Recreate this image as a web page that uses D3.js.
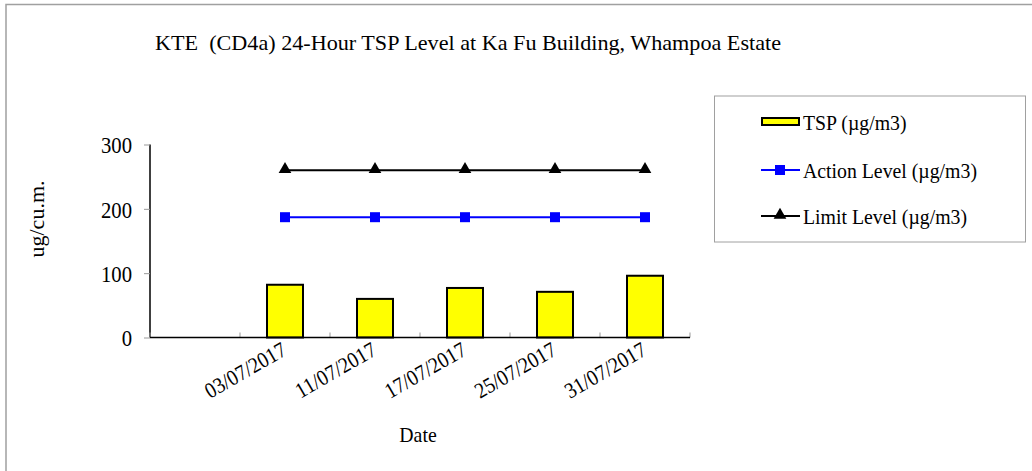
<!DOCTYPE html>
<html>
<head>
<meta charset="utf-8">
<script src="https://cdn.jsdelivr.net/npm/d3@7"></script>
<style>
  body { margin: 0; background: #fff; }
  text { font-family: "Liberation Serif", "DejaVu Serif", serif; fill: #000; }
</style>
</head>
<body>
<div id="main"></div>
<script>
// first slot is empty in the original chart
const dates = ["", "03/07/2017", "11/07/2017", "17/07/2017", "25/07/2017", "31/07/2017"]
const tsp = [null, 82, 60, 77, 71, 96]
const actionLevel = [null, 187, 187, 187, 187, 187]
const limitLevel = [null, 260, 260, 260, 260, 260]
const yTicks = [0, 100, 200, 300]
const seriesNames = ["TSP (\u00b5g/m3)", "Action Level (\u00b5g/m3)", "Limit Level (\u00b5g/m3)"]

const W = 1032, H = 471
const FONT = "Liberation Serif"
const FS = 22, SX = 0.9 // narrow tall serif like the original
const svg = d3.select("#main").append("svg").attr("width", W).attr("height", H)
  .attr("font-family", FONT)

// outer frame
svg.append("rect").attr("x", 6).attr("y", 4.5).attr("width", W + 20).attr("height", H + 20)
  .attr("fill", "none").attr("stroke", "#a0a0a0").attr("stroke-width", 1.5)

svg.append("text").attr("x", 468).attr("y", 50).attr("text-anchor", "middle")
  .attr("font-family", FONT).attr("font-size", FS)
  .attr("textLength", 626).attr("lengthAdjust", "spacingAndGlyphs")
  .style("white-space", "pre")
  .text("KTE  (CD4a) 24-Hour TSP Level at Ka Fu Building, Whampoa Estate")

const x = d3.scaleBand().domain(dates).range([150, 690]).padding(0)
const y = d3.scaleLinear().domain([0, 300]).range([337.5, 144.5])
const bw = x.bandwidth()

// y axis
const yG = svg.append("g").attr("transform", "translate(150,0)")
  .call(d3.axisLeft(y).tickValues(yTicks).tickSize(6).tickPadding(0))
yG.select(".domain").attr("stroke", "#000").attr("stroke-width", 1.5).attr("d", `M0,${y(300)}V${y(0)}`)
yG.selectAll(".tick line").attr("stroke", "#999")
yG.selectAll(".tick text").attr("font-size", 23).attr("font-family", FONT)
  .attr("x", 0).attr("dy", "0.36em").attr("transform", `translate(-18,0) scale(${SX},1)`)

// x axis: ticks at the slot boundaries, pointing up
const bounds = dates.map(d => x(d)).concat([x.range()[1]])
svg.append("g").selectAll("line").data(bounds).join("line")
  .attr("x1", d => d).attr("x2", d => d).attr("y1", y(0)).attr("y2", y(0) - 5)
  .attr("stroke", "#999")

// bars
svg.append("g").selectAll("rect").data(dates.map((d, i) => ({ d, v: tsp[i] })).filter(o => o.v != null))
  .join("rect")
  .attr("x", o => x(o.d) + bw * 0.3).attr("width", bw * 0.4)
  .attr("y", o => y(o.v)).attr("height", o => y(0) - y(o.v))
  .attr("fill", "#ffff00").attr("stroke", "#000").attr("stroke-width", 2)

svg.append("line").attr("x1", 150).attr("x2", 690).attr("y1", y(0)).attr("y2", y(0))
  .attr("stroke", "#000").attr("stroke-width", 1.5)

// x labels
svg.append("g").selectAll("text").data(dates.filter(d => d)).join("text")
  .attr("transform", d => `translate(${x(d) + bw / 2 + 3},354) rotate(-30) scale(${SX},1)`)
  .attr("text-anchor", "end").attr("font-size", FS).text(d => d)

const line = d3.line().defined(p => p.v != null).x(p => x(p.d) + bw / 2).y(p => y(p.v))
const act = dates.map((d, i) => ({ d, v: actionLevel[i] }))
const lim = dates.map((d, i) => ({ d, v: limitLevel[i] }))

svg.append("path").datum(act).attr("d", line).attr("fill", "none").attr("stroke", "#0000ff").attr("stroke-width", 2)
svg.append("path").datum(lim).attr("d", line).attr("fill", "none").attr("stroke", "#000").attr("stroke-width", 2)

const sq = d3.symbol().type(d3.symbolSquare).size(100)
const tri = d3.symbol().type(d3.symbolTriangle).size(70)
svg.append("g").selectAll("path").data(act.filter(p => p.v != null)).join("path")
  .attr("d", sq).attr("transform", p => `translate(${x(p.d) + bw / 2},${y(p.v)})`).attr("fill", "#0000ff")
svg.append("g").selectAll("path").data(lim.filter(p => p.v != null)).join("path")
  .attr("d", tri).attr("transform", p => `translate(${x(p.d) + bw / 2},${y(p.v) - 1})`).attr("fill", "#000")

// axis titles
svg.append("text").attr("transform", "translate(44,219) rotate(-90)").attr("text-anchor", "middle")
  .attr("font-size", FS).text("ug/cu.m.")
svg.append("text").attr("transform", `translate(418,442) scale(${SX},1)`).attr("text-anchor", "middle")
  .attr("font-family", FONT).attr("font-size", FS).text("Date")

// legend
const lg = svg.append("g")
lg.append("rect").attr("x", 714.5).attr("y", 96).attr("width", 311).attr("height", 146)
  .attr("fill", "#fff").attr("stroke", "#a0a0a0")
const rowY = [122, 170, 216]
lg.append("rect").attr("x", 762).attr("y", rowY[0] - 4).attr("width", 37).attr("height", 7)
  .attr("fill", "#ffff00").attr("stroke", "#000").attr("stroke-width", 2)
lg.append("line").attr("x1", 761).attr("x2", 800).attr("y1", rowY[1]).attr("y2", rowY[1]).attr("stroke", "#0000ff").attr("stroke-width", 2)
lg.append("path").attr("d", sq).attr("transform", `translate(780,${rowY[1]})`).attr("fill", "#0000ff")
lg.append("line").attr("x1", 761).attr("x2", 800).attr("y1", rowY[2]).attr("y2", rowY[2]).attr("stroke", "#000").attr("stroke-width", 2)
lg.append("path").attr("d", tri).attr("transform", `translate(780,${rowY[2] - 1})`).attr("fill", "#000")
lg.selectAll("text.lab").data(seriesNames).join("text").attr("class", "lab")
  .attr("transform", (d, i) => `translate(803,${rowY[i]}) scale(${SX},1)`)
  .attr("dy", "0.35em").attr("font-size", FS).text(d => d)
</script>
</body>
</html>
